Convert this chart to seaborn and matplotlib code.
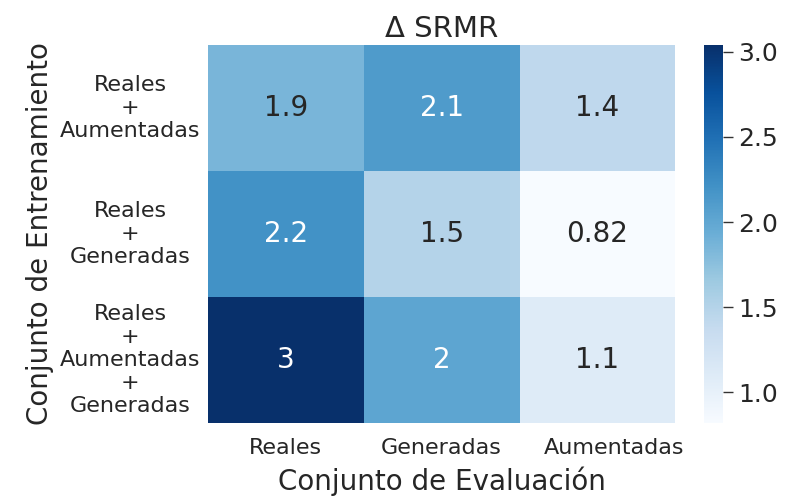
import numpy as np
import pandas as pd
import seaborn as sns
import matplotlib
matplotlib.use("Agg")
import matplotlib.pyplot as plt
from matplotlib.transforms import ScaledTranslation

# Evaluation sets (columns) and training sets (rows)
eval_sets = ["Reales", "Generadas", "Aumentadas"]
train_sets = ["Reales\n+\nAumentadas",
              "Reales\n+\nGeneradas",
              "Reales\n+\nAumentadas\n+\nGeneradas"]

row_aug = [1.86, 2.12, 1.42]
row_gen = [2.20, 1.50, 0.82]
row_all = [3.04, 2.02, 1.10]

df = pd.DataFrame([row_aug, row_gen, row_all], index=train_sets, columns=eval_sets)

sns.set_theme(style="white", font_scale=1.0)

fig = plt.figure(figsize=(7.88, 5.0), dpi=100)
ax = fig.add_axes([0.264, 0.154, 0.593, 0.756])
cax = fig.add_axes([0.8934, 0.154, 0.024, 0.756])

sns.heatmap(df, annot=True, cmap="Blues", ax=ax, cbar_ax=cax,
            annot_kws={"fontsize": 20})

ax.set_title("Δ SRMR", fontsize=21)
ax.set_xlabel("Conjunto de Evaluación", fontsize=20, labelpad=6)
ax.set_ylabel("Conjunto de Entrenamiento", fontsize=20)
ax.tick_params(axis="x", labelsize=16, length=0, pad=11)
ax.tick_params(axis="y", labelsize=16, length=0, pad=56)
plt.setp(ax.get_yticklabels(), rotation=0, ha="center", va="center",
         multialignment="center")

# nudge the last column label a little to the right
last = ax.get_xticklabels()[-1]
last.set_transform(last.get_transform() +
                   ScaledTranslation(0.17, 0, fig.dpi_scale_trans))

cax.tick_params(labelsize=18, length=7, width=1, pad=4, color="#333333")
cax.yaxis.set_ticks_position("right")

fig.savefig("out.png", dpi=100)
